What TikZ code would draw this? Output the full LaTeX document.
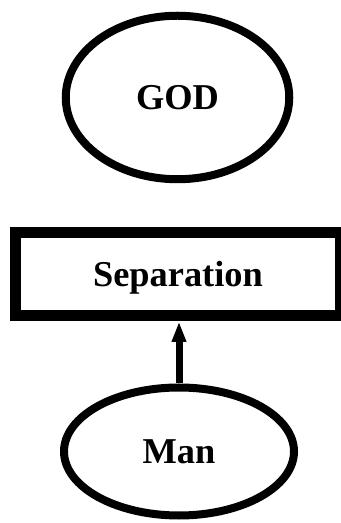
\documentclass[tikz,border=0pt]{standalone}
\usepackage{fontspec}
\setmainfont{Liberation Serif}
\usetikzlibrary{shapes.geometric,arrows.meta}
\tikzset{
  word/.style={font=\fontsize{20.7}{25}\selectfont\bfseries, text depth=0pt},
  oval/.style={word, ellipse, draw, line width=0.16cm, inner sep=0pt},
  sepbox/.style={word, rectangle, draw, line width=0.22cm, inner sep=0pt}
}
\begin{document}
\begin{tikzpicture}
            \useasboundingbox (0,0) rectangle (6.8,10.46);

            \node[oval, minimum width=4.47cm, minimum height=3.27cm] (god) at (3.55,8.51) {GOD};
            \node[sepbox, minimum width=6.5cm, minimum height=1.67cm] (sep) at (3.56,4.975) {Separation};
            \node[oval, minimum width=4.6cm, minimum height=2.56cm] (man) at (3.58,1.43) {Man};

            \draw[line width=0.14cm, -{Triangle[length=0.41cm, width=0.27cm]}] (man.north) -- (man.north|-sep.south);
        \end{tikzpicture}
\end{document}
